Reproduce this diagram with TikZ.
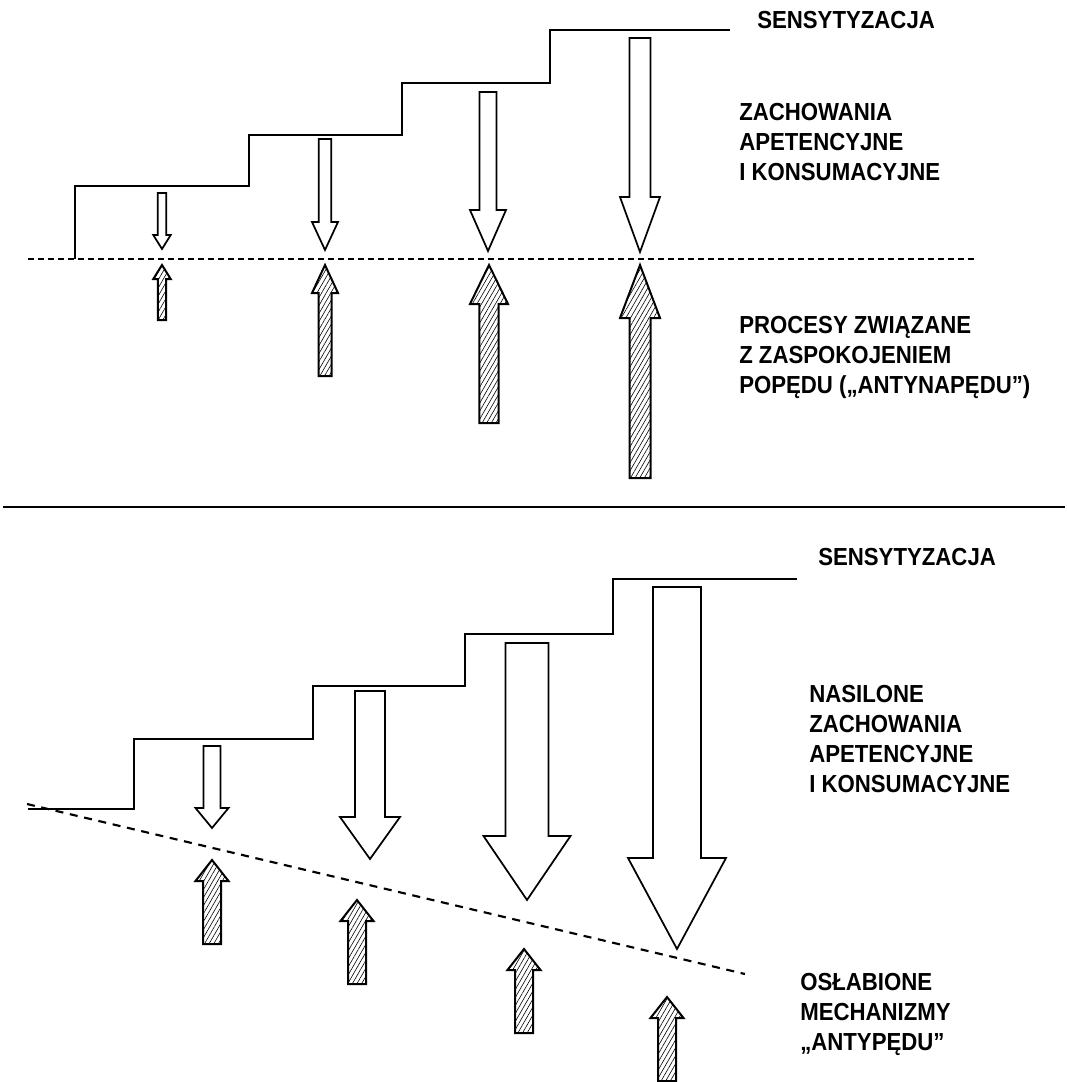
\documentclass[tikz,border=0pt]{standalone}
\usepackage{fontspec}
\newfontfamily\lblfont{Liberation Sans}[FakeStretch=0.9]
\usetikzlibrary{patterns.meta}
\newcommand\blkarrow[7]{% style, x, ytail, yheadbase, ytip, half shaft, half head
  \draw[#1] (#2-#6,#3) -- (#2-#6,#4) -- (#2-#7,#4) -- (#2,#5) -- (#2+#7,#4) -- (#2+#6,#4) -- (#2+#6,#3) -- cycle;}
\begin{document}
\begin{tikzpicture}[x=0.75pt,y=-0.75pt,
  stair/.style={line width=1.5pt, line join=miter},
  hollow/.style={draw, line width=1.3pt, fill=white, line join=miter},
  hatched/.style={draw, line width=1.5pt, line join=miter, pattern={Lines[angle=60,distance=3pt,line width=0.45pt]}},
  thindash/.style={line width=0.9pt, dash pattern=on 4.5pt off 3pt},
  thickdash/.style={line width=1.6pt, dash pattern=on 6pt off 5pt},
  lbl/.style={anchor=base west, inner sep=0pt, font=\lblfont\bfseries\fontsize{18.5}{22.5}\selectfont}
]
\useasboundingbox (0,0) rectangle (1067,1082);

% ---------- top panel ----------
\draw[stair] (75,259) -- (75,186) -- (249,186) -- (249,135) -- (402,135) -- (402,83) -- (550,83) -- (550,30) -- (730,30);
\draw[thindash] (28,259) -- (975,259);

\blkarrow{hollow}{162}{193}{235}{249}{4.3}{8.7}
\blkarrow{hollow}{325}{139}{222}{250}{6.3}{13}
\blkarrow{hollow}{488}{92}{210}{251}{8.6}{18}
\blkarrow{hollow}{640}{38}{197}{252}{10.5}{20}

\blkarrow{hatched}{162}{320}{279}{265}{4.2}{8.7}
\blkarrow{hatched}{325}{376}{293}{265}{6.5}{13}
\blkarrow{hatched}{489}{423}{304}{265}{9.7}{19}
\blkarrow{hatched}{640}{478}{318}{265}{10.5}{20}

\node[lbl] (sens1) at (757,28) {SENSYTYZACJA};
\node[lbl] (zach1) at (739,120) {\begin{tabular}[t]{@{}l@{}}ZACHOWANIA\\APETENCYJNE\\I KONSUMACYJNE\end{tabular}};
\node[lbl] (proc1) at (739,333) {\begin{tabular}[t]{@{}l@{}}PROCESY ZWIĄZANE\\Z ZASPOKOJENIEM\\POPĘDU („ANTYNAPĘDU”)\end{tabular}};

% separator
\draw[line width=1.2pt] (3,507) -- (1065,507);

% ---------- bottom panel ----------
\draw[stair] (28,809) -- (134,809) -- (134,739) -- (313,739) -- (313,686) -- (465,686) -- (465,634) -- (613,634) -- (613,579) -- (797,579);
\draw[thickdash] (27,804) -- (745,974);

\blkarrow{hollow}{212}{746}{808}{828}{8.5}{16.5}
\blkarrow{hollow}{370}{691}{817}{859}{15}{30}
\blkarrow{hollow}{527}{643}{836}{900}{21.5}{43.5}
\blkarrow{hollow}{677}{587}{858}{949}{24}{49}

\blkarrow{hatched}{212}{944}{881}{860}{9}{16.5}
\blkarrow{hatched}{357}{984}{921}{900}{9}{16.5}
\blkarrow{hatched}{524}{1033}{970}{949}{9}{16.5}
\blkarrow{hatched}{667}{1081}{1018}{997}{9}{16.5}

\node[lbl] (sens2) at (818,565) {SENSYTYZACJA};
\node[lbl] (nas) at (809,702) {\begin{tabular}[t]{@{}l@{}}NASILONE\\ZACHOWANIA\\APETENCYJNE\\I KONSUMACYJNE\end{tabular}};
\node[lbl] (osl) at (800,990) {\begin{tabular}[t]{@{}l@{}}OSŁABIONE\\MECHANIZMY\\„ANTYPĘDU”\end{tabular}};
\end{tikzpicture}
\end{document}
